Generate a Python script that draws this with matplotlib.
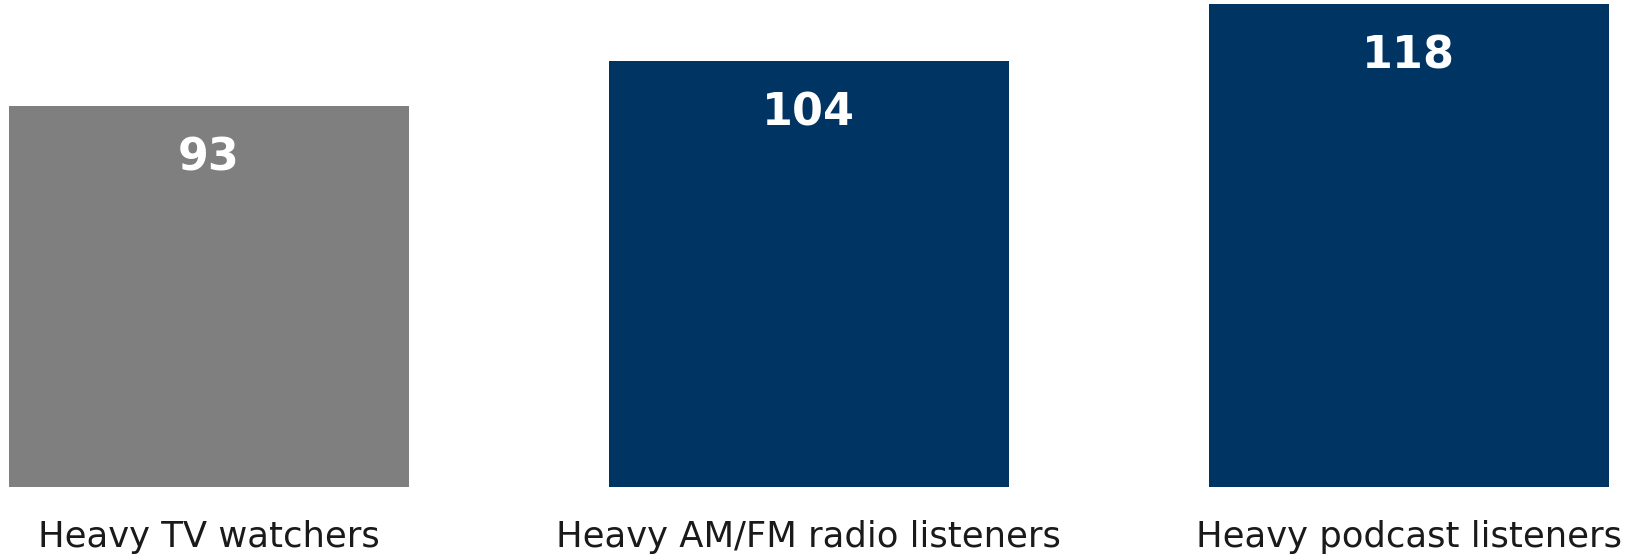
import matplotlib
matplotlib.use("Agg")
import matplotlib.pyplot as plt

# data
categories = ["Heavy TV watchers", "Heavy AM/FM radio listeners", "Heavy podcast listeners"]
values = [93, 104, 118]
colors = ["#7f7f7f", "#003462", "#003462"]

W, H = 1628, 555
fig = plt.figure(figsize=(W / 100, H / 100), dpi=100)

# baseline sits ~487 px from the top, bars are 600 px apart and ~400 px wide
base_px = 486.7
px_per_unit = 4.09
ax = fig.add_axes([0, (H - base_px) / H, 1, base_px / H])
x = list(range(len(values)))
ax.bar(x, values, width=0.667, color=colors)
ax.set_xlim(-208.8 / 600, (W - 208.8) / 600)
ax.set_ylim(0, base_px / px_per_unit)

for xi, v in zip(x, values):
    ax.annotate(str(v), (xi, v), xytext=(0, -22), textcoords="offset points",
                ha="center", va="top", color="white", fontsize=32,
                fontweight="bold", family="DejaVu Sans")

ax.set_xticks(x)
ax.set_xticklabels(categories, fontsize=25.5, color="#1a1a1a", family="DejaVu Sans")
ax.tick_params(axis="x", length=0, pad=24)
ax.set_yticks([])
for s in ax.spines.values():
    s.set_visible(False)

fig.savefig("out.png", dpi=100)
